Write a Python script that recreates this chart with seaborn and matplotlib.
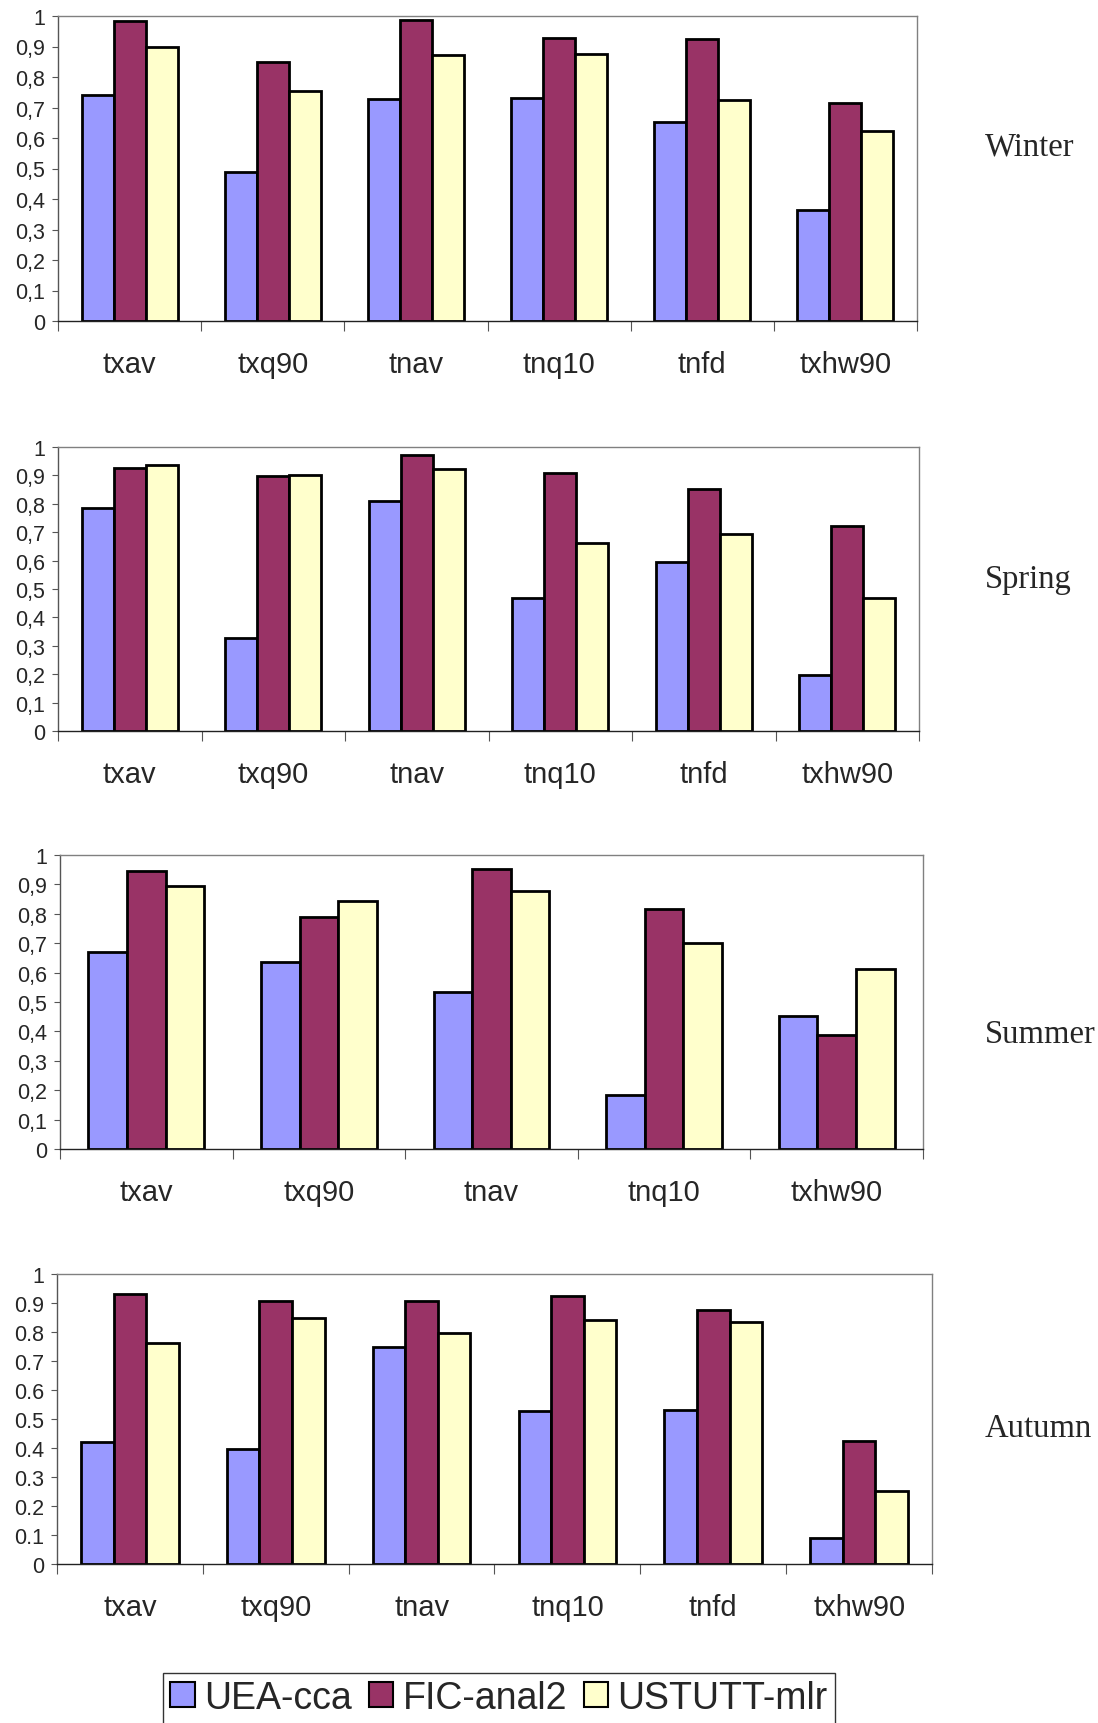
import pandas as pd
import seaborn as sns
import matplotlib.pyplot as plt
from matplotlib.ticker import FixedLocator

# data
models = ['UEA-cca', 'FIC-anal2', 'USTUTT-mlr']
colors = ['#9999FF', '#993366', '#FFFFCC']

winter_idx = ['txav', 'txq90', 'tnav', 'tnq10', 'tnfd', 'txhw90']
winter_uea = [0.741, 0.490, 0.728, 0.731, 0.651, 0.364]
winter_fic = [0.984, 0.848, 0.986, 0.928, 0.923, 0.714]
winter_ust = [0.897, 0.755, 0.872, 0.876, 0.726, 0.624]

spring_idx = ['txav', 'txq90', 'tnav', 'tnq10', 'tnfd', 'txhw90']
spring_uea = [0.786, 0.328, 0.811, 0.468, 0.594, 0.196]
spring_fic = [0.926, 0.899, 0.971, 0.907, 0.851, 0.722]
spring_ust = [0.935, 0.901, 0.924, 0.662, 0.694, 0.469]

summer_idx = ['txav', 'txq90', 'tnav', 'tnq10', 'txhw90']
summer_uea = [0.670, 0.636, 0.534, 0.182, 0.451]
summer_fic = [0.947, 0.788, 0.951, 0.816, 0.389]
summer_ust = [0.895, 0.843, 0.878, 0.701, 0.611]

autumn_idx = ['txav', 'txq90', 'tnav', 'tnq10', 'tnfd', 'txhw90']
autumn_uea = [0.422, 0.398, 0.747, 0.526, 0.532, 0.088]
autumn_fic = [0.932, 0.906, 0.906, 0.923, 0.877, 0.424]
autumn_ust = [0.761, 0.850, 0.795, 0.841, 0.833, 0.253]

yticks = [0, 0.1, 0.2, 0.3, 0.4, 0.5, 0.6, 0.7, 0.8, 0.9, 1]
ylabels_comma = ['0', '0,1', '0,2', '0,3', '0,4', '0,5', '0,6', '0,7', '0,8', '0,9', '1']
ylabels_dot = ['0', '0.1', '0.2', '0.3', '0.4', '0.5', '0.6', '0.7', '0.8', '0.9', '1']

sns.set_theme(style='white')
plt.rcParams['font.family'] = ['Liberation Sans', 'DejaVu Sans']

W, H = 1098, 1724
fig = plt.figure(figsize=(W / 100, H / 100), dpi=100)


def px_axes(left, right, top, bottom):
    return fig.add_axes([left / W, 1 - bottom / H, (right - left) / W, (bottom - top) / H])


def season_df(idx, uea, fic, ust):
    rows = []
    for name, vals in zip(models, [uea, fic, ust]):
        for i, v in zip(idx, vals):
            rows.append({'index': i, 'model': name, 'value': v})
    return pd.DataFrame(rows)


panels = [
    ('Winter', winter_idx, winter_uea, winter_fic, winter_ust, (58, 917, 17, 322), 147, ylabels_comma),
    ('Spring', spring_idx, spring_uea, spring_fic, spring_ust, (58, 919, 448, 732), 580, ylabels_comma),
    ('Summer', summer_idx, summer_uea, summer_fic, summer_ust, (60, 923, 856, 1150), 1035, ylabels_comma),
    ('Autumn', autumn_idx, autumn_uea, autumn_fic, autumn_ust, (57, 932, 1275, 1565), 1429, ylabels_dot),
]

for season, idx, uea, fic, ust, box, label_y, ylab in panels:
    ax = px_axes(*box)
    df = season_df(idx, uea, fic, ust)
    sns.barplot(data=df, x='index', y='value', hue='model', hue_order=models,
                order=idx, palette=colors, width=0.67, edgecolor='black',
                linewidth=2.0, saturation=1, ax=ax, legend=False)
    n = len(idx)
    ax.set_xlim(-0.5, n - 0.5)
    ax.set_ylim(0, 1)
    ax.set_xlabel('')
    ax.set_ylabel('')
    ax.set_yticks(yticks)
    ax.set_yticklabels(ylab, fontsize=15.5)
    ax.tick_params(axis='y', direction='out', length=4, width=0.8, color='#555555', pad=5, left=True)
    ax.tick_params(axis='x', which='major', length=0, pad=21, labelsize=21)
    ax.xaxis.set_minor_locator(FixedLocator([k - 0.5 for k in range(n + 1)]))
    ax.tick_params(axis='x', which='minor', direction='out', length=7, width=0.8,
                   color='#555555', bottom=True)
    for s in ['top', 'right']:
        ax.spines[s].set_color('#808080')
        ax.spines[s].set_linewidth(1)
    ax.spines['left'].set_color('#555555')
    ax.spines['left'].set_linewidth(1)
    ax.spines['bottom'].set_color('#222222')
    ax.spines['bottom'].set_linewidth(1)
    fig.text(985 / W, 1 - label_y / H, season, fontsize=23.5,
             family=['Liberation Serif', 'DejaVu Serif'], ha='left', va='center')

handles = [plt.Rectangle((0, 0), 1, 1, facecolor=c, edgecolor='black', linewidth=1.5) for c in colors]
leg = fig.legend(handles, models, loc='center', bbox_to_anchor=(499 / W, 1 - 1699 / H),
                 ncol=3, fontsize=27, frameon=True, fancybox=False, handlelength=0.65,
                 handleheight=0.65, handletextpad=0.25, columnspacing=0.45,
                 borderpad=0.2, borderaxespad=0)
leg.get_frame().set_edgecolor('black')
leg.get_frame().set_linewidth(1)

fig.savefig('out.png', dpi=100, facecolor='white')
